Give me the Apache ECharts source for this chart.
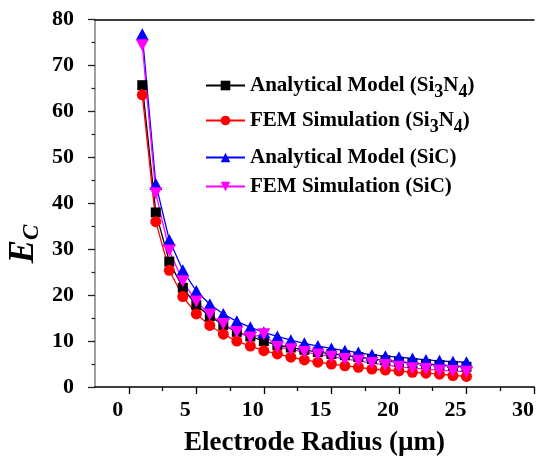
<!DOCTYPE html>
<html>
<head>
<meta charset="utf-8">
<script src="https://cdn.jsdelivr.net/npm/echarts@6/dist/echarts.min.js"></script>
<style>
  html, body { margin: 0; padding: 0; background: #fff; }
  #chart { width: 537px; height: 462px; }
</style>
</head>
<body>
<div id="chart"></div>
<script>
// Electrode radius (µm)
const radius = [1, 2, 3, 4, 5, 6, 7, 8, 9, 10, 11, 12, 13, 14, 15, 16, 17, 18, 19, 20, 21, 22, 23, 24, 25];

// E_C values for each model / material
const analyticalSi3N4 = [65.7, 38.0, 27.3, 21.6, 17.8, 15.4, 13.5, 12.0, 11.0, 10.0, 9.1, 8.6, 8.1, 7.6, 7.2, 6.9, 6.5, 6.1, 5.8, 5.5, 5.2, 5.0, 4.8, 4.6, 4.4];
const femSi3N4        = [63.6, 36.0, 25.4, 19.7, 15.9, 13.4, 11.5, 10.0, 8.9, 7.9, 7.2, 6.5, 5.9, 5.4, 5.0, 4.6, 4.3, 3.9, 3.7, 3.5, 3.2, 3.0, 2.8, 2.5, 2.3];
const analyticalSiC   = [76.8, 44.2, 32.0, 25.4, 20.9, 18.0, 15.9, 14.3, 13.0, 11.9, 11.0, 10.2, 9.5, 8.9, 8.4, 7.9, 7.5, 7.0, 6.7, 6.5, 6.2, 5.9, 5.7, 5.5, 5.4];
const femSiC          = [74.4, 42.2, 29.7, 23.0, 18.6, 15.8, 13.7, 12.0, 10.8, 11.5, 8.7, 8.2, 7.6, 7.1, 6.6, 6.1, 5.7, 5.2, 4.8, 4.4, 4.1, 3.9, 3.6, 3.5, 3.3];

const seriesNames = [
  'Analytical Model (Si3N4)',
  'FEM Simulation (Si3N4)',
  'Analytical Model (SiC)',
  'FEM Simulation (SiC)'
];

// Tick positions on the radius axis
const xMajorTicks = [0, 5, 10, 15, 20, 25, 30];
const xMinorTicks = [2.5, 7.5, 12.5, 17.5, 22.5, 27.5];

const FONT = 'Liberation Serif';

function pairs(ys) {
  return radius.map((r, i) => [r, ys[i]]);
}

// Turn chemical formulas into rich text with subscript digits
function formulaRich(name) {
  return name.replace(/([A-Za-z])(\d)/g, '$1{s|$2}');
}

// top offset of each legend row
const legendTops = [75, 110, 147, 176];
const legendText = {
  fontFamily: FONT,
  fontWeight: 'bold',
  fontSize: 21,
  color: '#000',
  rich: {
    s: { fontFamily: FONT, fontWeight: 'bold', fontSize: 18, color: '#000', padding: [13, 0, 0, 0] }
  }
};

const chart = echarts.init(document.getElementById('chart'), null, { renderer: 'canvas' });

function lineSeries(name, ys, color, symbol, size, rotate) {
  return {
    name: name,
    type: 'line',
    xAxisIndex: 0,
    yAxisIndex: 0,
    data: pairs(ys),
    symbol: symbol,
    symbolSize: size,
    symbolRotate: rotate || 0,
    showSymbol: true,
    animation: false,
    lineStyle: { color: color, width: 1.3 },
    itemStyle: { color: color },
    emphasis: { disabled: true }
  };
}

const option = {
  backgroundColor: '#fff',
  animation: false,
  grid: { left: 95, right: 0, top: 19.5, bottom: 75 },
  xAxis: [
    {
      type: 'value',
      position: 'bottom',
      min: -2.5,
      max: 30,
      splitLine: { show: false },
      axisLine: { show: true, onZero: false, lineStyle: { color: '#000', width: 1.5 } },
      axisTick: { show: true, customValues: xMajorTicks, length: 7, lineStyle: { color: '#000', width: 1.3 } },
      axisLabel: {
        customValues: xMajorTicks,
        margin: 12,
        padding: [0, 22, 0, 0],
        fontFamily: FONT, fontWeight: 'bold', fontSize: 22, color: '#000'
      },
      name: 'Electrode Radius (\u00b5m)',
      nameLocation: 'middle',
      nameGap: 43,
      nameTextStyle: { fontFamily: FONT, fontWeight: 'bold', fontSize: 27, color: '#000' }
    },
    {
      // minor ticks of the radius axis
      type: 'value',
      position: 'bottom',
      min: -2.5,
      max: 30,
      splitLine: { show: false },
      axisLine: { show: false, onZero: false },
      axisTick: { show: true, customValues: xMinorTicks, length: 4, lineStyle: { color: '#000', width: 1.3 } },
      axisLabel: { show: false }
    },
    {
      // frame line along the top
      type: 'value',
      position: 'top',
      min: -2.5,
      max: 30,
      splitLine: { show: false },
      axisLine: { show: true, onZero: false, lineStyle: { color: '#000', width: 1.5 } },
      axisTick: { show: false },
      axisLabel: { show: false }
    }
  ],
  yAxis: {
    type: 'value',
    min: 0,
    max: 80,
    interval: 10,
    splitLine: { show: false },
    axisLine: { show: true, onZero: false, lineStyle: { color: '#808080', width: 1.5 } },
    axisTick: { show: true, length: 7, lineStyle: { color: '#222', width: 1.3 } },
    minorTick: { show: true, splitNumber: 2, length: 3.5, lineStyle: { color: '#222', width: 1.2 } },
    axisLabel: { margin: 21, fontFamily: FONT, fontWeight: 'bold', fontSize: 22, color: '#000' }
  },
  legend: seriesNames.map((n, i) => ({
    data: [n],
    left: 205,
    top: legendTops[i],
    padding: 0,
    itemWidth: 39,
    itemHeight: 12,
    itemGap: 0,
    selectedMode: false,
    formatter: formulaRich,
    textStyle: legendText
  })),
  graphic: [
    {
      type: 'text',
      x: 24,
      y: 244,
      rotation: Math.PI / 2,
      style: {
        text: '{e|E}{c|C}',
        align: 'center',
        verticalAlign: 'middle',
        rich: {
          e: { fontFamily: FONT, fontWeight: 'bold', fontStyle: 'italic', fontSize: 35, fill: '#000', color: '#000' },
          c: { fontFamily: FONT, fontWeight: 'bold', fontStyle: 'italic', fontSize: 23, fill: '#000', color: '#000', padding: [17, 0, 0, 0] }
        }
      }
    }
  ],
  series: [
    lineSeries(seriesNames[0], analyticalSi3N4, '#000000', 'rect', 10),
    lineSeries(seriesNames[1], femSi3N4, '#ff0000', 'circle', 11),
    lineSeries(seriesNames[2], analyticalSiC, '#0000ff', 'triangle', [13, 12]),
    lineSeries(seriesNames[3], femSiC, '#ff00ff', 'triangle', [13, 12], 180)
  ]
};

chart.setOption(option);
</script>
</body>
</html>
